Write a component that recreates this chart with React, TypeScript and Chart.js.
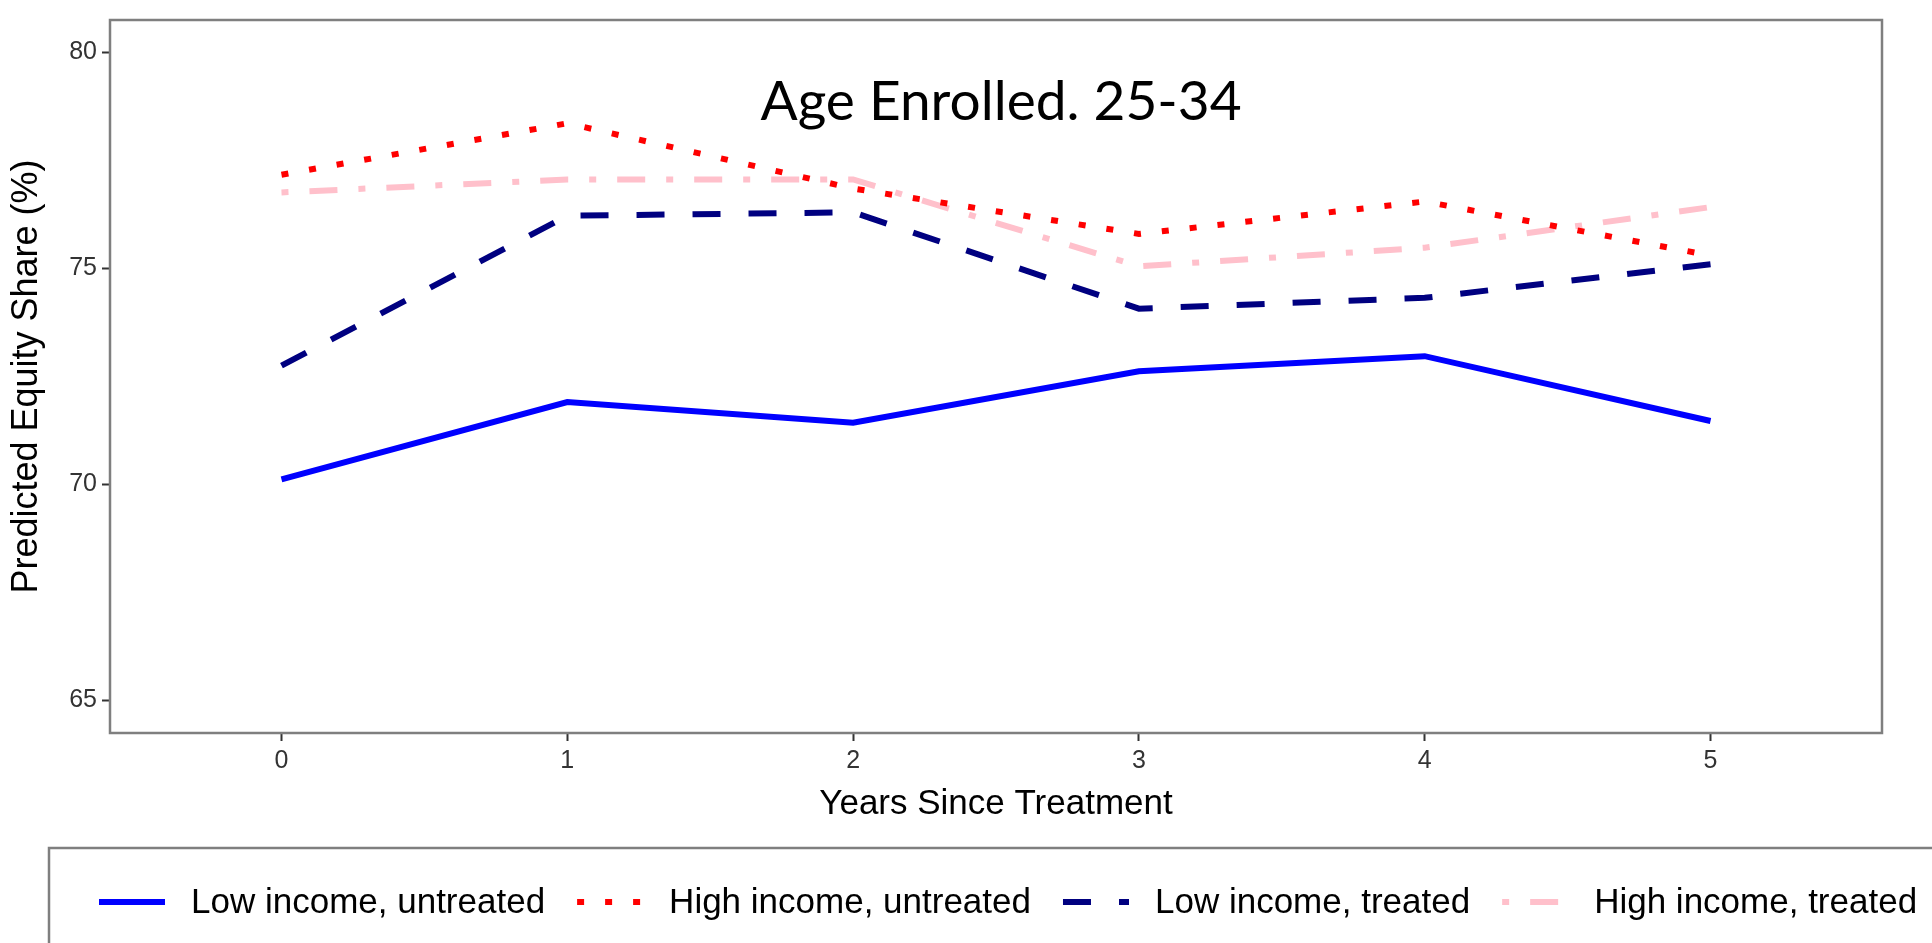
import { useEffect, useRef } from "react";
import { Chart, registerables } from "chart.js";
import type { Plugin } from "chart.js";

Chart.register(...registerables);

// values
const YEARS = [0, 1, 2, 3, 4, 5];
const LOW_UNTREATED = [70.12, 71.91, 71.43, 72.62, 72.97, 71.47];
const HIGH_UNTREATED = [77.17, 78.36, 76.85, 75.8, 76.55, 75.3];
const LOW_TREATED = [72.75, 76.22, 76.3, 74.07, 74.32, 75.1];
const HIGH_TREATED = [76.76, 77.06, 77.06, 75.05, 75.48, 76.42];

const SERIES_LABELS = [
  "Low income, untreated",
  "High income, untreated",
  "Low income, treated",
  "High income, treated",
];
const X_TICKS = [0, 1, 2, 3, 4, 5];
const Y_TICKS = [65, 70, 75, 80];
const TITLE = "Age Enrolled. 25-34";
const X_TITLE = "Years Since Treatment";
const Y_TITLE = "Predicted Equity Share (%)";

const FONT = "'Liberation Sans', Arial, sans-serif";
const LINE_W = 6;

const toPoints = (ys: number[]) => YEARS.map((x, i) => ({ x, y: ys[i] }));

// panel border
const panelBorder: Plugin = {
  id: "panelBorder",
  afterDraw(chart) {
    const { ctx, chartArea: a } = chart;
    ctx.save();
    ctx.strokeStyle = "#7f7f7f";
    ctx.lineWidth = 2.5;
    ctx.strokeRect(a.left, a.top, a.right - a.left, a.bottom - a.top);
    ctx.restore();
  },
};

// title inside the panel
const innerTitle: Plugin = {
  id: "innerTitle",
  afterDraw(chart) {
    const { ctx, chartArea: a } = chart;
    ctx.save();
    ctx.fillStyle = "#000";
    ctx.font = "55px Lato, 'DejaVu Sans', sans-serif";
    ctx.textAlign = "center";
    ctx.textBaseline = "alphabetic";
    ctx.fillText(TITLE, (a.left + a.right) / 2 + 5, a.top + 100);
    ctx.restore();
  },
};

// boxed legend under the plot, running off the right edge like the original
const boxLegend: Plugin = {
  id: "boxLegend",
  afterDraw(chart) {
    const { ctx } = chart;
    const boxTop = chart.height - 95;
    const midY = chart.height - 41;
    ctx.save();
    ctx.strokeStyle = "#7f7f7f";
    ctx.lineWidth = 2.5;
    ctx.strokeRect(49, boxTop, chart.width + 50, 200);

    ctx.font = `35px ${FONT}`;
    ctx.textBaseline = "middle";
    ctx.textAlign = "left";
    let x = 99;
    chart.data.datasets.forEach((ds: any) => {
      ctx.save();
      ctx.strokeStyle = ds.borderColor;
      ctx.lineWidth = ds.borderWidth;
      ctx.lineCap = "butt";
      ctx.setLineDash(ds.borderDash || []);
      ctx.beginPath();
      ctx.moveTo(x, midY);
      ctx.lineTo(x + 66, midY);
      ctx.stroke();
      ctx.restore();
      x += 66 + 26;
      ctx.fillStyle = "#000";
      ctx.fillText(ds.label, x, midY + 1);
      x += ctx.measureText(ds.label).width + 32;
    });
    ctx.restore();
  },
};

export default function App() {
  const canvasRef = useRef<HTMLCanvasElement>(null);
  const chartRef = useRef<Chart | null>(null);

  useEffect(() => {
    if (!canvasRef.current) return;
    chartRef.current?.destroy();

    chartRef.current = new Chart(canvasRef.current, {
      type: "line",
      data: {
        datasets: [
          {
            label: SERIES_LABELS[0],
            data: toPoints(LOW_UNTREATED),
            borderColor: "#0000ff",
            borderWidth: LINE_W,
            borderDash: [],
          },
          {
            label: SERIES_LABELS[1],
            data: toPoints(HIGH_UNTREATED),
            borderColor: "#ff0000",
            borderWidth: LINE_W,
            borderDash: [7, 21],
          },
          {
            label: SERIES_LABELS[2],
            data: toPoints(LOW_TREATED),
            borderColor: "#000080",
            borderWidth: LINE_W,
            borderDash: [28, 28],
          },
          {
            label: SERIES_LABELS[3],
            data: toPoints(HIGH_TREATED),
            borderColor: "#ffc0cb",
            borderWidth: LINE_W,
            borderDash: [7, 21, 28, 21],
          },
        ],
      },
      options: {
        responsive: true,
        maintainAspectRatio: false,
        animation: false,
        font: { family: FONT },
        layout: { padding: { top: 12, right: 50, bottom: 118, left: 0 } },
        elements: {
          point: { radius: 0, hoverRadius: 0 },
          line: { tension: 0, borderCapStyle: "butt", fill: false },
        },
        plugins: {
          legend: { display: false },
          tooltip: { enabled: false },
        },
        scales: {
          x: {
            type: "linear",
            min: -0.6,
            max: 5.6,
            afterBuildTicks: (s) => {
              s.ticks = X_TICKS.map((v) => ({ value: v }));
            },
            afterFit: (s) => {
              s.height = 92;
            },
            grid: {
              drawOnChartArea: false,
              drawTicks: true,
              tickLength: 8,
              tickColor: "#333",
              tickWidth: 2,
            },
            border: { display: false },
            ticks: {
              color: "#333",
              font: { family: FONT, size: 25 },
              padding: 5,
              maxRotation: 0,
              callback: (v) => String(v),
            },
            title: {
              display: true,
              text: X_TITLE,
              color: "#000",
              font: { family: FONT, size: 35 },
              padding: { top: 0, bottom: 0 },
            },
          },
          y: {
            type: "linear",
            min: 64.25,
            max: 80.75,
            afterBuildTicks: (s) => {
              s.ticks = Y_TICKS.map((v) => ({ value: v }));
            },
            afterFit: (s) => {
              s.width = 110;
            },
            grid: {
              drawOnChartArea: false,
              drawTicks: true,
              tickLength: 8,
              tickColor: "#333",
              tickWidth: 2,
            },
            border: { display: false },
            ticks: {
              color: "#333",
              font: { family: FONT, size: 25 },
              padding: 5,
              callback: (v) => String(v),
            },
            title: {
              display: true,
              text: Y_TITLE,
              color: "#000",
              font: { family: FONT, size: 36 },
              padding: { top: 5, bottom: 0 },
            },
          },
        },
      },
      plugins: [panelBorder, innerTitle, boxLegend],
    });

    return () => {
      chartRef.current?.destroy();
      chartRef.current = null;
    };
  }, []);

  return (
    <div
      style={{
        position: "fixed",
        left: 0,
        top: 0,
        width: 1932,
        height: 943,
        background: "#fff",
      }}
    >
      <canvas ref={canvasRef} />
    </div>
  );
}
